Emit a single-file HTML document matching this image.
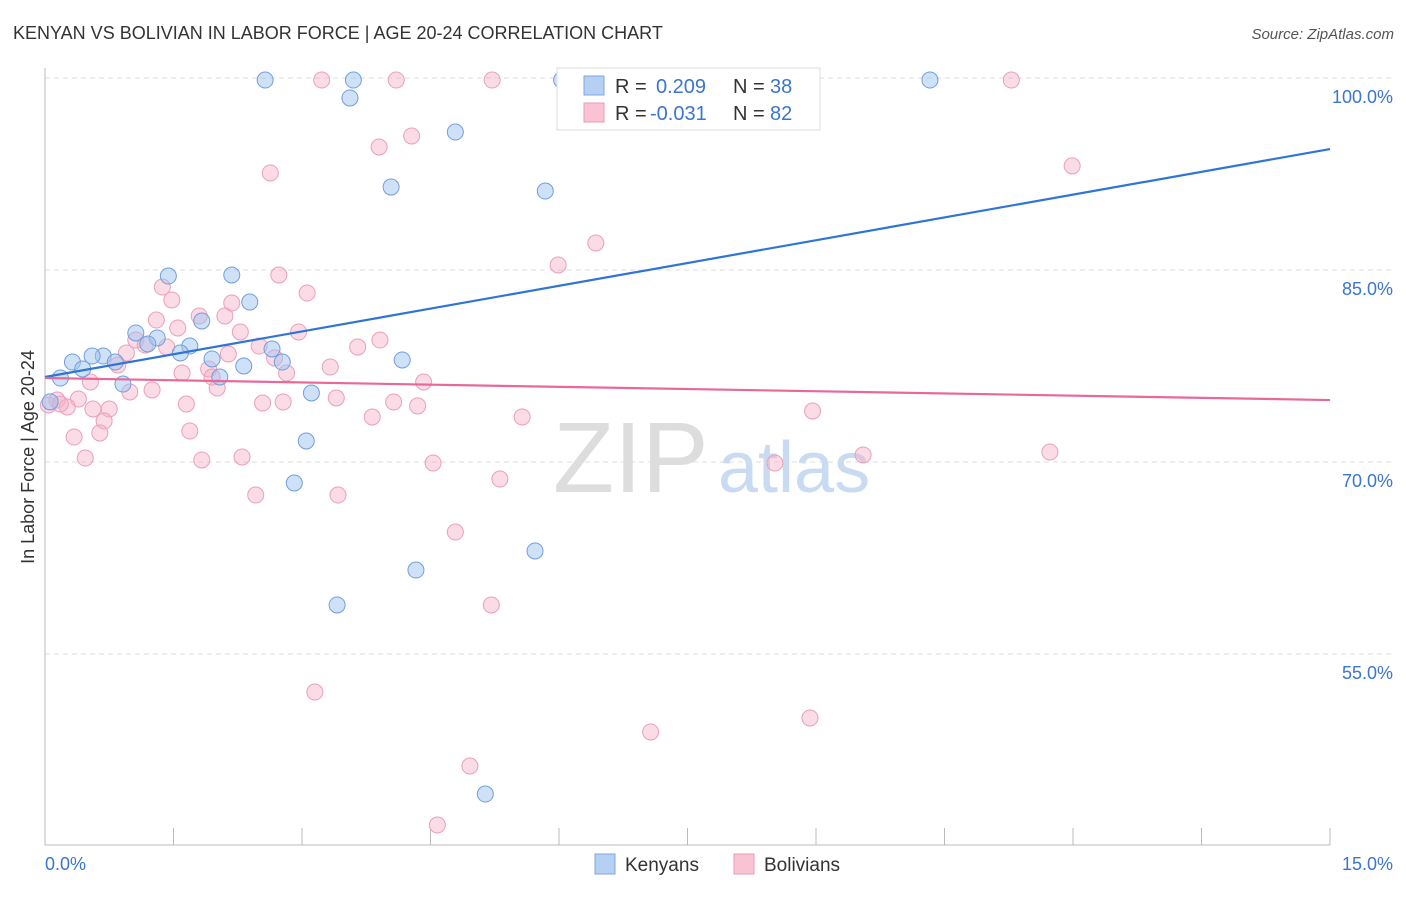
<!DOCTYPE html>
<html><head><meta charset="utf-8"><style>
body{margin:0;background:#fff;font-family:"Liberation Sans",sans-serif;}
svg text{font-family:"Liberation Sans",sans-serif;}
</style></head><body>
<svg id="chart" width="1406" height="892" viewBox="0 0 1406 892">
<text x="13" y="39" font-size="18" fill="#333">KENYAN VS BOLIVIAN IN LABOR FORCE | AGE 20-24 CORRELATION CHART</text>
<text x="1394" y="39" font-size="15" fill="#555" text-anchor="end" font-style="italic">Source: ZipAtlas.com</text>
<g>
<text x="553" y="492" font-size="100" fill="#ddd" font-family="Liberation Serif, serif">ZIP</text>
<text x="718" y="492" font-size="72" fill="#c8dbf2">atlas</text>
</g>
<g id="grid"></g>
<g id="axes"></g>
<g id="marks"></g>
<text transform="translate(34,457) rotate(-90)" font-size="18" fill="#333" text-anchor="middle">In Labor Force | Age 20-24</text>
<g>
<rect x="557" y="68" width="263" height="62" fill="#fff" stroke="#ddd"/>
<rect x="584" y="76" width="20" height="19" fill="#b5d0f3" stroke="#7aa7e3"/>
<rect x="584" y="103" width="20" height="19" fill="#f9c3d3" stroke="#eb9ab3"/>
<text x="615" y="93" font-size="20" fill="#333">R = </text><text x="656" y="93" font-size="20" fill="#3a75d0">0.209</text>
<text x="733" y="93" font-size="20" fill="#333">N = </text><text x="770" y="93" font-size="20" fill="#3a75d0">38</text>
<text x="615" y="120" font-size="20" fill="#333">R = </text><text x="650" y="120" font-size="20" fill="#3a75d0">-0.031</text>
<text x="733" y="120" font-size="20" fill="#333">N = </text><text x="770" y="120" font-size="20" fill="#3a75d0">82</text>
</g>
<g>
<rect x="595" y="854" width="20" height="20" fill="#b5d0f3" stroke="#7aa7e3"/>
<text x="625" y="871" font-size="19" fill="#333">Kenyans</text>
<rect x="734" y="854" width="20" height="20" fill="#f9c3d3" stroke="#eb9ab3"/>
<text x="764" y="871" font-size="19" fill="#333">Bolivians</text>
</g>
</svg>
<script>
const xDomain=[0,15];
const yDomain=[40.1,100.8];
const yTicks=[100,85,70,55];
const yTickLabels=["100.0%","85.0%","70.0%","55.0%"];
const xTicks=[0,1.5,3,4.5,6,7.5,9,10.5,12,13.5,15];
const kenX=[2.57,3.60,3.56,6.03,10.33,4.79,4.04,5.84,1.44,2.18,2.39,1.83,1.06,1.31,1.20,1.69,1.58,1.95,2.65,2.77,2.32,2.04,0.68,0.55,0.32,0.44,0.18,0.82,0.91,4.17,3.11,3.05,2.91,5.72,4.33,3.41,5.14,0.06];
const kenY=[99.84,99.84,98.44,99.84,99.84,95.78,91.48,91.17,84.53,84.61,82.50,81.02,80.08,79.69,79.22,79.06,78.52,78.05,78.83,77.81,77.50,76.64,78.28,78.28,77.81,77.27,76.56,77.81,76.09,77.97,75.39,71.64,68.36,63.05,61.56,58.83,44.06,74.7];
const bolX=[3.23,4.10,5.22,11.28,4.28,3.90,2.63,11.99,6.43,5.99,2.73,3.06,1.37,1.48,2.18,2.10,1.30,1.80,1.55,2.28,2.96,3.91,3.65,1.06,1.42,0.95,1.17,2.50,2.14,2.68,0.85,2.82,3.33,1.91,1.60,1.95,0.53,2.01,0.99,1.25,4.42,4.07,3.40,2.54,2.78,1.65,0.14,0.39,0.26,0.56,0.75,4.35,3.82,5.57,8.96,0.69,1.69,0.64,0.34,2.30,1.83,0.47,4.53,8.52,9.55,11.73,5.31,2.46,3.42,4.79,5.21,3.15,8.93,7.07,4.96,4.58,0.04,0.18];
const bolY=[99.84,99.84,99.84,99.84,95.47,94.61,92.58,93.13,87.11,85.39,84.61,83.20,83.67,82.66,82.42,81.41,81.09,81.41,80.47,80.16,80.16,79.53,78.98,79.53,78.98,78.52,79.14,79.06,78.44,78.13,77.58,76.95,77.42,77.27,76.95,76.64,76.25,75.78,75.47,75.63,76.25,74.69,75.00,74.61,74.69,74.53,74.84,74.92,74.30,74.14,74.14,74.38,73.52,73.52,73.98,73.20,72.42,72.27,71.95,70.39,70.16,70.31,69.92,69.92,70.55,70.78,68.67,67.42,67.42,64.53,58.83,52.03,50.00,48.91,46.25,41.64,74.45,74.53];
const kenTrend=[76.64,94.45];
const bolTrend=[76.56,74.84];
const L=45,R=1330,T=78,B=845;
const sx=v=>L+(v-xDomain[0])/(xDomain[1]-xDomain[0])*(R-L);
const sy=v=>T+(100-v)*12.8;
const NS="http://www.w3.org/2000/svg";
function mk(tag,attrs,parent){const e=document.createElementNS(NS,tag);for(const k in attrs)e.setAttribute(k,attrs[k]);parent.appendChild(e);return e;}
const grid=document.getElementById('grid'),axes=document.getElementById('axes'),marks=document.getElementById('marks');
yTicks.forEach((t,i)=>{
 const l=mk('line',{x1:L,x2:1393,y1:sy(t),y2:sy(t),stroke:'#ddd','stroke-dasharray':'5,4'},grid);
 
 
 const tx=mk('text',{x:1393,y:sy(t)+25,'font-size':18,fill:'#3a75d0','text-anchor':'end'},axes);
 tx.textContent=yTickLabels[i];
 
 
});
mk('line',{x1:L,x2:L,y1:68,y2:B,stroke:'#bbb'},axes);
mk('line',{x1:L,x2:R,y1:B,y2:B,stroke:'#bbb'},axes);
xTicks.forEach(t=>{const k=mk('line',{x1:sx(t),x2:sx(t),y1:B,y2:828,stroke:'#bbb'},axes);
 
 });
let a=mk('text',{x:45,y:870,'font-size':18,fill:'#3a75d0'},axes);a.textContent="0.0%";


a=mk('text',{x:1393,y:870,'font-size':18,fill:'#3a75d0','text-anchor':'end'},axes);a.textContent="15.0%";


bolX.forEach((x,i)=>{const c=mk('circle',{cx:sx(x),cy:sy(bolY[i]),r:8,fill:'rgba(244,176,200,0.45)',stroke:'#ec9fb8','stroke-width':1},marks);
 
 });
kenX.forEach((x,i)=>{const c=mk('circle',{cx:sx(x),cy:sy(kenY[i]),r:8,fill:'rgba(160,196,240,0.5)',stroke:'#6f9fdf','stroke-width':1},marks);
 
 });
let t1=mk('line',{x1:sx(xDomain[0]),x2:sx(xDomain[1]),y1:sy(kenTrend[0]),y2:sy(kenTrend[1]),stroke:'#2f74d6','stroke-width':2.2},marks);


let t2=mk('line',{x1:sx(xDomain[0]),x2:sx(xDomain[1]),y1:sy(bolTrend[0]),y2:sy(bolTrend[1]),stroke:'#e8689a','stroke-width':2.2},marks);


</script>
</body></html>
